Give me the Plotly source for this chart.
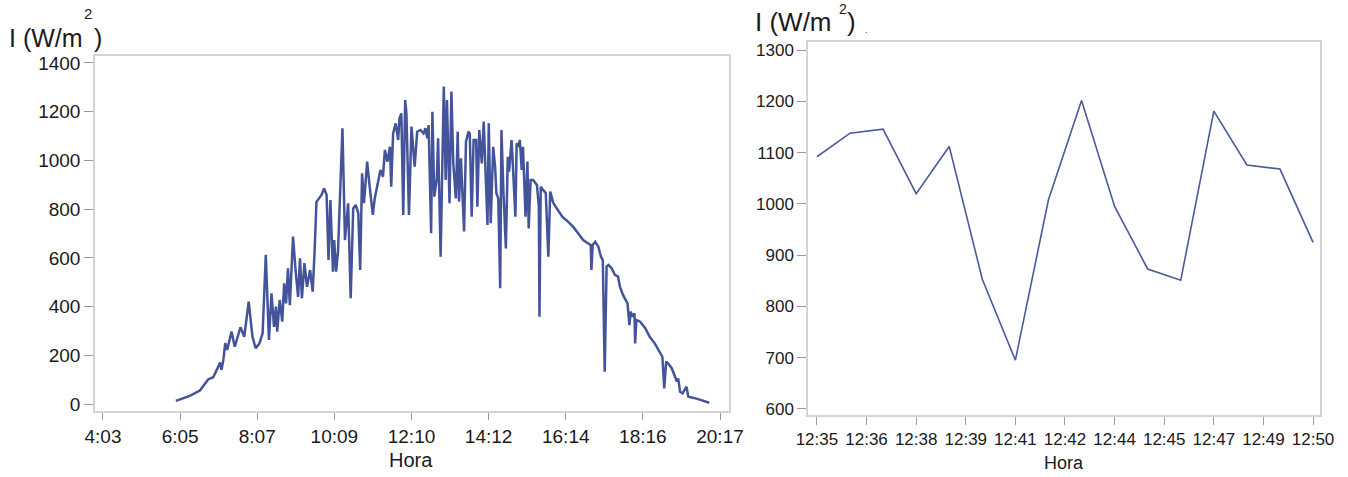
import plotly.graph_objects as go

# ---- Left panel: full day irradiance ----
day_times = ["5:58", "6:20", "6:36", "6:49", "6:57", "7:02", "7:08", "7:10", "7:13", "7:16",
             "7:19", "7:26", "7:31", "7:40", "7:46", "7:53", "7:59", "8:04", "8:10", "8:15",
             "8:20", "8:25", "8:29", "8:33", "8:36", "8:38", "8:42", "8:46", "8:49", "8:52",
             "8:55", "8:58", "9:03", "9:07", "9:11", "9:14", "9:17", "9:21", "9:25", "9:30",
             "9:34", "9:37", "9:40", "9:48", "9:52", "9:56", "9:59", "10:02", "10:06", "10:08",
             "10:11", "10:14", "10:21", "10:25", "10:30", "10:34", "10:38", "10:42", "10:46", "10:49",
             "10:52", "10:55", "11:00", "11:04", "11:09", "11:12", "11:18", "11:21", "11:25", "11:28",
             "11:32", "11:36", "11:38", "11:41", "11:45", "11:49", "11:51", "11:54", "11:57", "12:00",
             "12:02", "12:06", "12:10", "12:15", "12:19", "12:24", "12:29", "12:32", "12:35", "12:37",
             "12:41", "12:43", "12:46", "12:50", "12:52", "12:56", "13:01", "13:04", "13:06", "13:10",
             "13:13", "13:16", "13:20", "13:23", "13:25", "13:28", "13:33", "13:36", "13:40", "13:42",
             "13:45", "13:48", "13:52", "13:54", "13:57", "14:01", "14:04", "14:08", "14:10", "14:12",
             "14:15", "14:19", "14:22", "14:24", "14:27", "14:30", "14:32", "14:35", "14:39", "14:42",
             "14:44", "14:48", "14:51", "14:54", "14:56", "14:59", "15:01", "15:04", "15:06", "15:10",
             "15:13", "15:15", "15:18", "15:22", "15:28", "15:31", "15:32", "15:34", "15:38", "15:42",
             "15:46", "15:49", "15:54", "16:02", "16:08", "16:17", "16:25", "16:33", "16:41", "16:49",
             "16:53", "16:54", "16:56", "17:00", "17:05", "17:09", "17:12", "17:15", "17:18", "17:21",
             "17:26", "17:31", "17:36", "17:39", "17:44", "17:51", "17:54", "17:56", "17:59", "18:02",
             "18:03", "18:05", "18:11", "18:19", "18:26", "18:34", "18:42", "18:46", "18:49", "18:52",
             "18:55", "19:01", "19:06", "19:09", "19:11", "19:14", "19:18", "19:22", "19:24", "19:27",
             "19:40", "20:00"]
day_values = [13, 33, 55, 101, 110, 140, 170, 140, 181, 250,
              222, 297, 235, 315, 276, 420, 276, 229, 249, 290,
              612, 263, 454, 317, 400, 297, 427, 338, 495, 413,
              557, 406, 687, 550, 440, 598, 434, 578, 481, 550,
              461, 625, 830, 858, 885, 858, 591, 837, 543, 673,
              543, 625, 1132, 673, 824, 434, 803, 817, 783, 550,
              947, 824, 995, 892, 776, 844, 920, 961, 933, 1043,
              995, 1056, 892, 1111, 1152, 1084, 1173, 1193, 776, 1248,
              1193, 776, 1139, 974, 1118, 1125, 1111, 1132, 1091, 1145,
              701, 1200, 851, 926, 1091, 605, 1303, 920, 1248, 824,
              1283, 988, 844, 1118, 831, 1009, 708, 1077, 1118, 1111,
              769, 1084, 1084, 810, 1125, 988, 1159, 892, 735, 1152,
              742, 1056, 974, 865, 844, 475, 1125, 878, 639, 1015,
              954, 1084, 947, 769, 1070, 1056, 1084, 961, 1056, 769,
              995, 721, 920, 920, 899, 810, 358, 892, 878, 865,
              605, 872, 824, 790, 769, 749, 728, 701, 673, 659,
              653, 550, 653, 666, 646, 605, 591, 133, 564, 571,
              557, 530, 523, 482, 447, 413, 324, 379, 358, 372,
              249, 345, 338, 311, 276, 249, 215, 194, 64, 174,
              167, 146, 112, 92, 105, 50, 44, 64, 71, 30,
              22, 5]
day_tick_labels = ["4:03", "6:05", "8:07", "10:09", "12:10", "14:12", "16:14", "18:16", "20:17"]
day_y_ticks = [0, 200, 400, 600, 800, 1000, 1200, 1400]

# ---- Right panel: zoom 12:35 - 12:50 ----
zoom_times = ["12:35", "12:36", "12:37", "12:38", "12:39", "12:40", "12:41", "12:42",
              "12:43", "12:44", "12:45", "12:46", "12:47", "12:48", "12:49", "12:50"]
zoom_values = [1092, 1138, 1146, 1020, 1112, 853, 695, 1008,
               1202, 995, 873, 851, 1181, 1076, 1068, 925]
zoom_tick_labels = ["12:35", "12:36", "12:38", "12:39", "12:41", "12:42",
                    "12:44", "12:45", "12:47", "12:49", "12:50"]
zoom_y_ticks = [600, 700, 800, 900, 1000, 1100, 1200, 1300]


def to_min(s):
    h, m = s.split(":")
    return int(h) * 60 + int(m)


day_x = [to_min(t) for t in day_times]
day_tick_first = to_min(day_tick_labels[0])
day_tick_last = to_min(day_tick_labels[-1])
n = len(day_tick_labels) - 1
day_tickvals = [day_tick_first + (day_tick_last - day_tick_first) * i / n for i in range(n + 1)]

zoom_x = [to_min(t) for t in zoom_times]
z0 = to_min(zoom_tick_labels[0])
z1 = to_min(zoom_tick_labels[-1])
m = len(zoom_tick_labels) - 1
zoom_tickvals = [z0 + (z1 - z0) * i / m for i in range(m + 1)]

W, H = 1348, 477
LINE = "#44549a"
FRAME = "#d4d4d4"
TICK = "#9a9a9a"
FONT_L = "Liberation Sans, Arial, sans-serif"
FONT_R = "Liberation Sans Narrow, Arial Narrow, Liberation Sans, Arial, sans-serif"


def px_x(p):
    return p / W


def px_y(p):
    return 1 - p / H


fig = go.Figure()
fig.add_trace(go.Scatter(x=day_x, y=day_values, mode="lines",
                         line=dict(color=LINE, width=2.5), xaxis="x", yaxis="y",
                         showlegend=False, hoverinfo="skip"))
fig.add_trace(go.Scatter(x=zoom_x, y=zoom_values, mode="lines",
                         line=dict(color="#4a5a9c", width=1.6), xaxis="x2", yaxis="y2",
                         showlegend=False, hoverinfo="skip"))

common = dict(showgrid=False, zeroline=False, showline=True, linecolor=FRAME, linewidth=1.5,
              mirror=True, ticks="outside", tickcolor=TICK, tickwidth=1.2, automargin=False)

fig.update_layout(
    width=W, height=H,
    margin=dict(l=0, r=0, t=0, b=0, pad=0),
    paper_bgcolor="white", plot_bgcolor="white",
    xaxis=dict(domain=[px_x(95), px_x(729)], range=[230.4, 1231.2],
               tickvals=day_tickvals, ticktext=day_tick_labels, ticklen=7,
               tickfont=dict(family=FONT_L, size=19, color="#1a1a1a"), **common),
    yaxis=dict(domain=[px_y(411), px_y(56)], range=[-28.7, 1428.6],
               tickvals=day_y_ticks, ticklen=9,
               tickfont=dict(family=FONT_L, size=19, color="#1a1a1a"), **common),
    xaxis2=dict(domain=[px_x(808), px_x(1320)], range=[z0 - 0.27, z1 + 0.21],
                tickvals=zoom_tickvals, ticktext=zoom_tick_labels, anchor="y2", ticklen=8,
                tickfont=dict(family=FONT_R, size=17, color="#1a1a1a"), **common),
    yaxis2=dict(domain=[px_y(415), px_y(42)], range=[588, 1316], anchor="x2",
                tickvals=zoom_y_ticks, ticklen=9,
                tickfont=dict(family=FONT_R, size=17, color="#1a1a1a"), **common),
)

ann = []


def add_text(txt, x, y, size, family, xanchor="left"):
    ann.append(dict(text=txt, x=px_x(x), y=px_y(y), xref="paper", yref="paper",
                    showarrow=False, xanchor=xanchor, yanchor="middle",
                    font=dict(family=family, size=size, color="#1a1a1a")))


# left titles
add_text("I (W/m", 7, 38, 25, FONT_L)
add_text("2", 88, 14, 15, FONT_L, "center")
add_text(")", 92, 38, 25, FONT_L)
add_text("Hora", 411, 460, 20, FONT_L, "center")
# right titles
add_text("I (W/m", 753, 22, 26, FONT_L)
add_text("2", 843, 9, 14, FONT_L, "center")
add_text(")", 845, 22, 26, FONT_L)
add_text(".", 866, 30, 9, FONT_L, "center")
add_text("Hora", 1064, 463, 18, FONT_R, "center")

fig.update_layout(annotations=ann)
# remove the default 8px body margin so the figure fills the window exactly
fig.write_html("out.html", config={"displayModeBar": False},
               post_script="document.body.style.margin='0';")
